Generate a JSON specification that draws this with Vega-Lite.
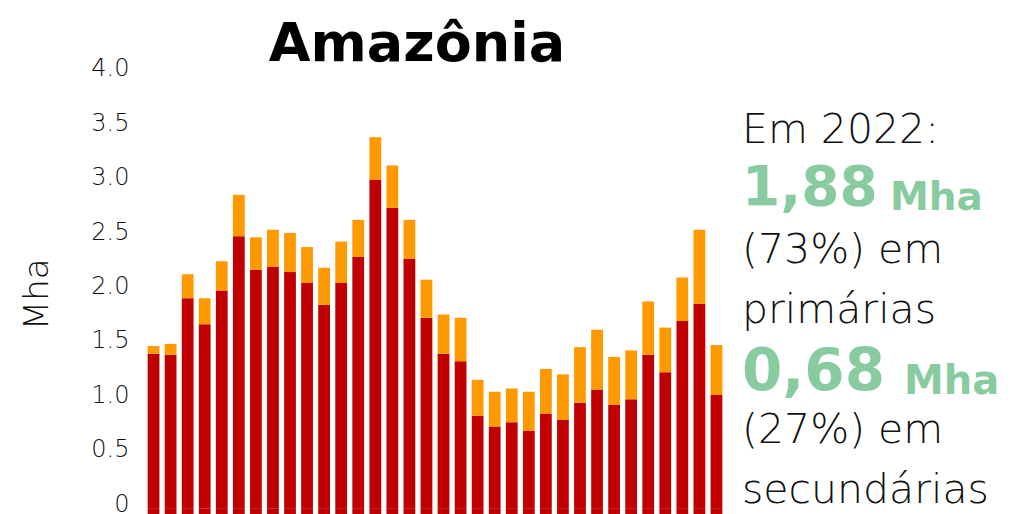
{
  "$schema": "https://vega.github.io/schema/vega-lite/v6.json",
  "background": "white",
  "padding": {"left": 20, "top": 18, "right": 0, "bottom": 0},
  "spacing": 17,
  "config": {"view": {"stroke": null}, "font": "DejaVu Sans"},
  "hconcat": [
    {
      "width": 580,
      "height": 441.7,
      "title": {"text": "Amazônia", "fontSize": 54, "fontWeight": "bold", "font": "DejaVu Sans", "color": "#000000", "anchor": "middle", "dx": -18, "offset": -15},
      "data": {"values": [
        {"year": 1990, "primary": 1.42, "secondary": 0.07},
        {"year": 1991, "primary": 1.41, "secondary": 0.10},
        {"year": 1992, "primary": 1.93, "secondary": 0.22},
        {"year": 1993, "primary": 1.69, "secondary": 0.24},
        {"year": 1994, "primary": 2.00, "secondary": 0.27},
        {"year": 1995, "primary": 2.50, "secondary": 0.38},
        {"year": 1996, "primary": 2.19, "secondary": 0.30},
        {"year": 1997, "primary": 2.22, "secondary": 0.34},
        {"year": 1998, "primary": 2.17, "secondary": 0.36},
        {"year": 1999, "primary": 2.07, "secondary": 0.33},
        {"year": 2000, "primary": 1.87, "secondary": 0.34},
        {"year": 2001, "primary": 2.07, "secondary": 0.38},
        {"year": 2002, "primary": 2.31, "secondary": 0.34},
        {"year": 2003, "primary": 3.02, "secondary": 0.39},
        {"year": 2004, "primary": 2.76, "secondary": 0.39},
        {"year": 2005, "primary": 2.29, "secondary": 0.36},
        {"year": 2006, "primary": 1.75, "secondary": 0.35},
        {"year": 2007, "primary": 1.42, "secondary": 0.36},
        {"year": 2008, "primary": 1.35, "secondary": 0.40},
        {"year": 2009, "primary": 0.85, "secondary": 0.33},
        {"year": 2010, "primary": 0.75, "secondary": 0.32},
        {"year": 2011, "primary": 0.79, "secondary": 0.31},
        {"year": 2012, "primary": 0.71, "secondary": 0.36},
        {"year": 2013, "primary": 0.87, "secondary": 0.41},
        {"year": 2014, "primary": 0.81, "secondary": 0.42},
        {"year": 2015, "primary": 0.97, "secondary": 0.51},
        {"year": 2016, "primary": 1.09, "secondary": 0.55},
        {"year": 2017, "primary": 0.95, "secondary": 0.44},
        {"year": 2018, "primary": 1.00, "secondary": 0.45},
        {"year": 2019, "primary": 1.41, "secondary": 0.49},
        {"year": 2020, "primary": 1.25, "secondary": 0.41},
        {"year": 2021, "primary": 1.72, "secondary": 0.40},
        {"year": 2022, "primary": 1.88, "secondary": 0.68},
        {"year": 2023, "primary": 1.04, "secondary": 0.46}
      ]},
      "transform": [{"fold": ["primary", "secondary"], "as": ["series", "value"]}],
      "encoding": {
        "x": {"field": "year", "type": "ordinal", "axis": null, "scale": {"paddingInner": 0.31, "paddingOuter": 0.155}}
      },
      "layer": [
        {
          "mark": {"type": "bar"},
          "encoding": {
            "y": {
              "field": "value", "type": "quantitative", "stack": "zero",
              "scale": {"domain": [-0.06, 4], "nice": false, "zero": false},
              "axis": {
                "title": "Mha", "values": [0, 0.5, 1, 1.5, 2, 2.5, 3, 3.5, 4],
                "labelExpr": "datum.value == 0 ? '0' : format(datum.value, '.1f')",
                "grid": false, "domain": false, "ticks": false,
                "labelFont": "DejaVu Sans", "labelFontSize": 24, "labelFontWeight": 300, "labelColor": "#111111",
                "labelPadding": 16, "labelOffset": -4, "titleFont": "DejaVu Sans", "titleFontSize": 34, "titleFontWeight": 300,
                "titleColor": "#111111", "titlePadding": 36
              }
            },
            "color": {"field": "series", "type": "nominal", "legend": null,
              "scale": {"domain": ["primary", "secondary"], "range": ["#C00000", "#FF9900"]}},
            "order": {"field": "series", "sort": "ascending"}
          }
        },
        {
          "transform": [{"filter": "datum.series == 'primary'"}],
          "mark": {"type": "bar", "color": "#C00000"},
          "encoding": {
            "y": {"datum": 0, "type": "quantitative"},
            "y2": {"datum": -0.06}
          }
        }
      ]
    },
    {
      "width": 269,
      "height": 441.7,
      "data": {"values": [
        {"line": 1, "kind": "black", "text": "Em 2022:"},
        {"line": 2, "kind": "num", "text": "1,88"},
        {"line": 2, "kind": "unit", "text": "Mha"},
        {"line": 3, "kind": "black", "text": "(73%) em"},
        {"line": 4, "kind": "black", "text": "primárias"},
        {"line": 5, "kind": "num", "text": "0,68"},
        {"line": 5, "kind": "unit", "text": "Mha"},
        {"line": 6, "kind": "black", "text": "(27%) em"},
        {"line": 7, "kind": "black", "text": "secundárias"}
      ]},
      "encoding": {
        "x": {"datum": 0, "type": "quantitative", "scale": {"domain": [0, 1]}, "axis": null},
        "y": {"field": "line", "type": "quantitative", "scale": {"domain": [7.193, -0.1684], "nice": false, "zero": false}, "axis": null},
        "text": {"field": "text", "type": "nominal"}
      },
      "layer": [
        {
          "transform": [{"filter": "datum.kind == 'black'"}],
          "mark": {"type": "text", "align": "left", "baseline": "alphabetic", "font": "DejaVu Sans", "fontSize": 41, "fontWeight": 300, "color": "#111111"}
        },
        {
          "transform": [{"filter": "datum.kind == 'num' && datum.line == 2"}],
          "mark": {"type": "text", "align": "left", "baseline": "alphabetic", "font": "DejaVu Sans", "fontSize": 55, "fontWeight": "bold", "color": "#88CBA0", "dy": 1.5}
        },
        {
          "transform": [{"filter": "datum.kind == 'unit' && datum.line == 2"}],
          "mark": {"type": "text", "align": "left", "baseline": "alphabetic", "font": "DejaVu Sans", "fontSize": 39, "fontWeight": "bold", "color": "#88CBA0", "dx": 148, "dy": 7}
        },
        {
          "transform": [{"filter": "datum.kind == 'num' && datum.line == 5"}],
          "mark": {"type": "text", "align": "left", "baseline": "alphabetic", "font": "DejaVu Sans", "fontSize": 58, "fontWeight": "bold", "color": "#88CBA0", "dy": 7}
        },
        {
          "transform": [{"filter": "datum.kind == 'unit' && datum.line == 5"}],
          "mark": {"type": "text", "align": "left", "baseline": "alphabetic", "font": "DejaVu Sans", "fontSize": 40, "fontWeight": "bold", "color": "#88CBA0", "dx": 162, "dy": 10.5}
        }
      ]
    }
  ]
}
